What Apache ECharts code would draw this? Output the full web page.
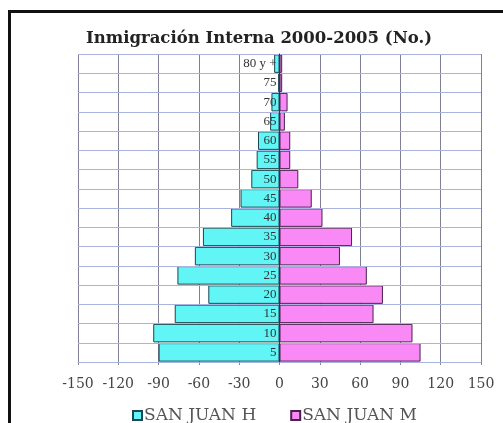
<!DOCTYPE html>
<html>
<head>
<meta charset="utf-8">
<script src="https://cdn.jsdelivr.net/npm/echarts@6/dist/echarts.min.js"></script>
<style>
  html, body { margin: 0; padding: 0; background: #fff; overflow: hidden; }
  #frame { position: absolute; left: 8px; top: 10px; width: 600px; height: 500px;
           border-left: 3px solid #111; border-top: 3px solid #111; box-sizing: border-box; }
  #chart { position: absolute; left: 0; top: 0; width: 503px; height: 423px; }
</style>
</head>
<body>
<div id="frame"></div>
<div id="chart"></div>
<script>
const ageGroups = ['5', '10', '15', '20', '25', '30', '35', '40', '45', '50', '55', '60', '65', '70', '75', '80 y +'];
const sanJuanH = [-90, -94, -78, -53, -76, -63, -57, -36, -29, -21, -17, -16, -7, -6, -1, -4];
const sanJuanM = [105, 99, 70, 77, 65, 45, 54, 32, 24, 14, 8, 8, 4, 6, 2, 2];
const xTicks = { min: -150, max: 150, interval: 30 };

const gridLeft = 78, gridRight = 22;
const gridWidth = 503 - gridLeft - gridRight;

const chart = echarts.init(document.getElementById('chart'), null, { renderer: 'canvas' });
chart.setOption({
  backgroundColor: 'transparent',
  animation: false,
  title: {
    text: 'Inmigración Interna 2000-2005 (No.)',
    left: 81, top: 25,
    textStyle: { fontFamily: 'DejaVu Serif', fontWeight: 'bold', fontSize: 16.5, color: '#222' }
  },
  legend: {
    left: 127, top: 402,
    itemWidth: 9, itemHeight: 9, itemGap: 34,
    icon: 'rect',
    textStyle: { fontFamily: 'DejaVu Serif', fontSize: 17, color: '#555', padding: [0, 0, 0, -3] },
    data: ['SAN JUAN H', 'SAN JUAN M']
  },
  grid: { left: gridLeft, right: gridRight, top: 54, bottom: 61 },
  xAxis: {
    type: 'value',
    min: xTicks.min, max: xTicks.max, interval: xTicks.interval,
    axisLine: { show: true, lineStyle: { color: '#b0b8d8' } },
    axisTick: { show: true, length: 3, lineStyle: { color: '#888' } },
    axisLabel: { fontFamily: 'DejaVu Serif', fontSize: 14, color: '#444', margin: 15 },
    splitLine: { show: true, lineStyle: { color: '#7f8096', width: 1 } }
  },
  yAxis: {
    type: 'category',
    data: ageGroups,
    z: 10,
    offset: -gridWidth / 2,
    axisLine: { show: true, onZero: false, lineStyle: { color: '#1d3f4a' } },
    axisTick: { show: false },
    axisLabel: { fontFamily: 'Liberation Serif', fontSize: 13, color: '#333', margin: 3 },
    splitLine: { show: true, lineStyle: { color: '#a9b3dd', width: 1 } }
  },
  series: [
    {
      name: 'SAN JUAN H', type: 'bar', stack: 'pop',
      barCategoryGap: '4%',
      data: sanJuanH,
      itemStyle: { color: '#62f5f5', borderColor: '#1d4650', borderWidth: 1 }
    },
    {
      name: 'SAN JUAN M', type: 'bar', stack: 'pop',
      barCategoryGap: '4%',
      data: sanJuanM,
      itemStyle: { color: '#f98af5', borderColor: '#4a2050', borderWidth: 1 }
    }
  ]
});
</script>
</body>
</html>
